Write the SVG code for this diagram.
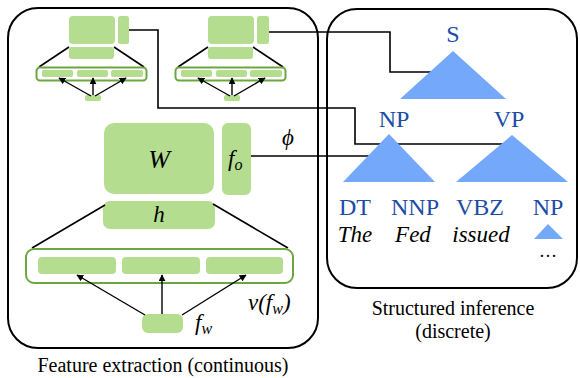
<svg xmlns="http://www.w3.org/2000/svg" width="580" height="378" viewBox="0 0 580 378">
<style>
.frame{fill:none;stroke:#000;stroke-width:2}
.g{fill:#b4dd8f}
.layer{fill:#fff;stroke:#6ca640;stroke-width:2}
.ln{fill:none;stroke:#000;stroke-width:1.6}
.ar{fill:none;stroke:#000;stroke-width:1.4;marker-end:url(#ah)}
.tri{fill:#74a8fb}
</style>
<defs>
<marker id="ah" viewBox="0 0 10 10" refX="9" refY="5" markerWidth="5" markerHeight="5" orient="auto">
<path d="M0,0 L10,5 L0,10 z" fill="#000"/>
</marker>
</defs>

<g id="feature-extraction">
<rect class="frame" x="8" y="8" width="310" height="340" rx="30"/>
<text font-family="Liberation Serif" font-size="20" text-anchor="middle" x="163" y="372">Feature extraction (continuous)</text>
</g>

<g id="structured-inference">
<rect class="frame" x="327" y="9" width="250" height="279" rx="30"/>
<text font-family="Liberation Serif" font-size="20" text-anchor="middle" x="453" y="315">Structured inference</text>
<text font-family="Liberation Serif" font-size="20" text-anchor="middle" x="453" y="338">(discrete)</text>
</g>

<g id="connectors">
<polyline class="ln" points="129,30 158,30 158,108 355,108 355,144 504,144"/>
<polyline class="ln" points="269,32 390,32 390,72 432,72"/>
<polyline class="ln" points="251,156 372,156"/>
</g>

<g id="mini-net-1">
<rect class="g" x="69" y="16" width="46" height="28" rx="4"/>
<rect class="g" x="118" y="16" width="11" height="28" rx="2.5"/>
<rect class="g" x="69" y="47" width="45" height="12" rx="3"/>
<line class="ln" x1="69" y1="47" x2="39" y2="67" stroke-width="1.2"/>
<line class="ln" x1="114" y1="47" x2="144" y2="67" stroke-width="1.2"/>
<rect class="layer" x="36.5" y="67.5" width="110" height="13" rx="3.5" stroke-width="1.3"/>
<rect class="g" x="42" y="70" width="31" height="7" rx="2"/>
<rect class="g" x="77" y="70" width="31" height="7" rx="2"/>
<rect class="g" x="111" y="70" width="32" height="7" rx="2"/>
<rect class="g" x="85" y="95" width="16" height="6" rx="2"/>
<line class="ar" x1="91" y1="96" x2="59" y2="78" stroke-width="1.1"/>
<line class="ar" x1="93" y1="95" x2="93" y2="78" stroke-width="1.1"/>
<line class="ar" x1="95" y1="96" x2="126" y2="78" stroke-width="1.1"/>
</g>

<g id="mini-net-2">
<rect class="g" x="208" y="16" width="46" height="28" rx="4"/>
<rect class="g" x="257" y="16" width="12" height="28" rx="2.5"/>
<rect class="g" x="208" y="47" width="45" height="12" rx="3"/>
<line class="ln" x1="208" y1="47" x2="178" y2="67" stroke-width="1.2"/>
<line class="ln" x1="253" y1="47" x2="283" y2="67" stroke-width="1.2"/>
<rect class="layer" x="175.5" y="67.5" width="110" height="13" rx="3.5" stroke-width="1.3"/>
<rect class="g" x="181" y="70" width="31" height="7" rx="2"/>
<rect class="g" x="216" y="70" width="31" height="7" rx="2"/>
<rect class="g" x="250" y="70" width="32" height="7" rx="2"/>
<rect class="g" x="224" y="95" width="16" height="6" rx="2"/>
<line class="ar" x1="230" y1="96" x2="198" y2="78" stroke-width="1.1"/>
<line class="ar" x1="232" y1="95" x2="232" y2="78" stroke-width="1.1"/>
<line class="ar" x1="234" y1="96" x2="265" y2="78" stroke-width="1.1"/>
</g>

<g id="W">
<rect class="g" x="104" y="123" width="110" height="71" rx="10"/>
<text font-family="Liberation Serif" font-style="italic" x="159" y="168" font-size="26" text-anchor="middle">W</text>
</g>

<g id="f_o">
<rect class="g" x="222" y="123" width="29" height="72" rx="6"/>
<text font-family="Liberation Serif" font-style="italic" x="228" y="166" font-size="23">f<tspan font-size="16" dy="4">o</tspan></text>
</g>

<g id="phi">
<text font-family="Liberation Serif" font-style="italic" x="288" y="145" font-size="23" text-anchor="middle">ϕ</text>
</g>

<g id="h">
<rect class="g" x="103" y="201" width="112" height="28" rx="7"/>
<text font-family="Liberation Serif" font-style="italic" x="159" y="222" font-size="23" text-anchor="middle">h</text>
<line class="ln" x1="105" y1="205" x2="32" y2="248" stroke-width="1.4"/>
<line class="ln" x1="213" y1="204" x2="288" y2="248" stroke-width="1.4"/>
</g>

<g id="v-layer">
<rect class="layer" x="26" y="249" width="267" height="34" rx="8" stroke-width="1.6"/>
<rect class="g" x="38" y="257" width="78" height="17" rx="4"/>
<rect class="g" x="122" y="257" width="78" height="17" rx="4"/>
<rect class="g" x="206" y="257" width="77" height="17" rx="4"/>
<text font-family="Liberation Serif" font-style="italic" x="248" y="310" font-size="23">v(f<tspan font-size="16" dy="4">w</tspan><tspan dy="-4">)</tspan></text>
</g>

<g id="f_w">
<rect class="g" x="142" y="314" width="41" height="19" rx="6"/>
<line class="ar" x1="145" y1="315" x2="77" y2="275"/>
<line class="ar" x1="162" y1="314" x2="162" y2="275"/>
<line class="ar" x1="182" y1="315" x2="246" y2="275"/>
<text font-family="Liberation Serif" font-style="italic" x="195" y="330" font-size="23">f<tspan font-size="16" dy="4">w</tspan></text>
</g>

<g id="S">
<text font-family="Liberation Serif" font-size="24" fill="#1b4ca6" text-anchor="middle" x="453" y="42">S</text>
<polygon class="tri" points="453,51 506,99 400,99"/>
</g>

<g id="NP">
<text font-family="Liberation Serif" font-size="24" fill="#1b4ca6" text-anchor="middle" x="394" y="127">NP</text>
<polygon class="tri" points="389,134 435,182 343,182"/>
</g>

<g id="VP">
<text font-family="Liberation Serif" font-size="24" fill="#1b4ca6" text-anchor="middle" x="509" y="127">VP</text>
<polygon class="tri" points="512,135 568,182 456,182"/>
</g>

<g id="DT">
<text font-family="Liberation Serif" font-size="24" fill="#1b4ca6" text-anchor="middle" x="355" y="215">DT</text>
<text font-family="Liberation Serif" font-size="23" font-style="italic" text-anchor="middle" x="355" y="242">The</text>
</g>
<g id="NNP">
<text font-family="Liberation Serif" font-size="24" fill="#1b4ca6" text-anchor="middle" x="415" y="215">NNP</text>
<text font-family="Liberation Serif" font-size="23" font-style="italic" text-anchor="middle" x="413" y="242">Fed</text>
</g>
<g id="VBZ">
<text font-family="Liberation Serif" font-size="24" fill="#1b4ca6" text-anchor="middle" x="480" y="215">VBZ</text>
<text font-family="Liberation Serif" font-size="23" font-style="italic" text-anchor="middle" x="481" y="242">issued</text>
</g>
<g id="NP2">
<text font-family="Liberation Serif" font-size="24" fill="#1b4ca6" text-anchor="middle" x="548" y="215">NP</text>
<polygon class="tri" points="548,224 563,239 534,239"/>
<text font-family="Liberation Serif" font-size="18" text-anchor="middle" x="548" y="257">…</text>
</g>
</svg>
